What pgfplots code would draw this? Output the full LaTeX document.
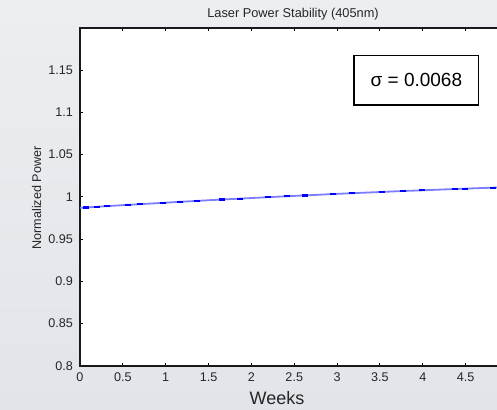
\documentclass[border=0pt]{standalone}
\usepackage{fontspec}
\setmainfont{Liberation Sans}
\usepackage{pgfplots}
\pgfplotsset{compat=1.18}

\definecolor{bgtop}{RGB}{236,238,241}
\definecolor{bgbot}{RGB}{225,228,233}
\definecolor{lineblue}{RGB}{125,125,255}

\begin{document}
\begin{tikzpicture}
\path[use as bounding box] (-40pt,-22.15pt) rectangle (208.5pt,182.85pt);
\clip (-40pt,-22.15pt) rectangle (208.5pt,182.85pt);
\shade[top color=bgtop, bottom color=bgbot] (-40pt,-22.15pt) rectangle (208.5pt,182.85pt);
\begin{axis}[
    at={(0pt,0pt)}, anchor=south west,
    scale only axis,
    width=214.25pt, height=168.85pt,
    xmin=0, xmax=5, ymin=0.8, ymax=1.2,
    xtick={0,0.5,...,4.5},
    ytick={0.8,0.85,0.9,0.95,1,1.05,1.1,1.15},
    tick align=inside,
    major tick length=1.5pt,
    tick style={black, line width=0.5pt},
    axis line style={black!90, line width=1pt},
    axis background/.style={fill=white},
    ticklabel style={font=\fontsize{6.3}{7}\selectfont, text=black!85},
    /pgf/number format/assume math mode=true,
    /pgf/number format/fixed,
    /pgf/number format/precision=2,
    xtick pos=both, ytick pos=left,
    clip=true,
]
\addplot[lineblue, line width=0.9pt] coordinates {
    (0,0.9870) (0.07,0.9874) (0.195,0.9882) (0.315,0.9890) (0.557,0.9905) (0.70,0.9913)
    (0.969,0.9929) (1.167,0.9941) (1.362,0.9952) (1.653,0.9968) (1.867,0.9979)
    (2.194,0.9996) (2.412,1.0007) (2.625,1.0017) (2.952,1.0033) (3.170,1.0043)
    (3.520,1.0058) (3.766,1.0069) (3.987,1.0077) (4.376,1.0093) (4.49,1.0097)
    (4.82,1.0109) (5.0,1.0115)
};
\addplot[only marks, mark=-, mark size=1.5pt,
    mark options={blue, line width=1.1pt}] coordinates {
    (0.07,0.9874) (0.195,0.9882) (0.315,0.9890) (0.557,0.9905) (0.70,0.9913)
    (0.969,0.9929) (1.167,0.9941) (1.362,0.9952) (1.653,0.9968) (1.867,0.9979)
    (2.194,0.9996) (2.412,1.0007) (2.625,1.0017) (2.952,1.0033) (3.170,1.0043)
    (3.520,1.0058) (3.766,1.0069) (3.987,1.0077) (4.376,1.0093) (4.49,1.0097)
    (4.82,1.0109)
};
\end{axis}
% sigma annotation box
\node[draw=black, fill=white, line width=0.6pt, minimum width=62.35pt, minimum height=24.65pt,
      font=\fontsize{9.5}{11}\selectfont, inner sep=0pt] at (168.2pt,142.7pt) {σ = 0.0068};
% title and axis labels
\node[font=\fontsize{6.4}{7.5}\selectfont, text=black!85] at (106.5pt,175.85pt) {Laser Power Stability (405nm)};
\node[font=\fontsize{9}{10}\selectfont, text=black!85] at (98.5pt,-16.15pt) {Weeks};
\node[font=\fontsize{6.3}{7.5}\selectfont, text=black!85, rotate=90] at (-21.65pt,83.85pt) {Normalized Power};
\end{tikzpicture}
\end{document}
